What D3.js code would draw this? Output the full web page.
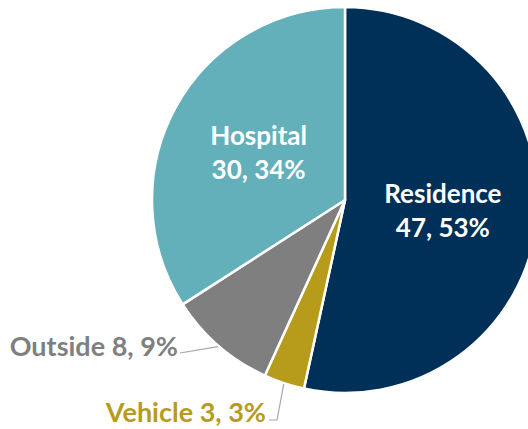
<!DOCTYPE html>
<html>
<head>
<meta charset="utf-8">
<script src="https://cdn.jsdelivr.net/npm/d3@7"></script>
<style>
  html, body { margin: 0; padding: 0; background: #fff; }
  svg { display: block; }
  text { font-family: Lato, "Open Sans", sans-serif; font-weight: 700; }
</style>
</head>
<body>
<svg id="chart" width="528" height="429"></svg>
<script>
// Place of death, counts and shares
const categories = ["Residence", "Vehicle", "Outside", "Hospital"];
const counts = [47, 3, 8, 30];
const percents = [53, 3, 9, 34];
const colors = ["#003057", "#b79c1b", "#7f7f7f", "#63b0bb"];
// labels drawn inside the slice vs. outside with a leader line
const insideLabel = [true, false, false, true];

const W = 528, H = 429;
const cx = 345, cy = 200, R = 193;

const svg = d3.select("#chart");
const g = svg.append("g").attr("transform", `translate(${cx},${cy})`);

const pie = d3.pie().sort(null).value(d => d.count);
const data = categories.map((c, i) => ({ name: c, count: counts[i], pct: percents[i], color: colors[i], inside: insideLabel[i] }));
const arcs = pie(data);

const arc = d3.arc().innerRadius(0).outerRadius(R);
const labelArc = d3.arc().innerRadius(R * 0.51).outerRadius(R * 0.51);
const edgeArc = d3.arc().innerRadius(R + 1).outerRadius(R + 1);

g.selectAll("path.slice")
  .data(arcs)
  .join("path")
  .attr("class", "slice")
  .attr("d", arc)
  .attr("fill", d => d.data.color)
  .attr("stroke", "#fff")
  .attr("stroke-width", 2.5)
  .attr("stroke-linejoin", "round");

// labels inside the big slices: name on top, "count, pct%" below
const inner = g.selectAll("g.inlabel")
  .data(arcs.filter(d => d.data.inside))
  .join("g")
  .attr("class", "inlabel")
  .attr("transform", d => { const [x, y] = labelArc.centroid(d); return `translate(${x},${y})`; });
inner.append("text")
  .attr("text-anchor", "middle")
  .attr("y", -8)
  .attr("font-size", 26)
  .attr("fill", "#fff")
  .text(d => d.data.name);
inner.append("text")
  .attr("text-anchor", "middle")
  .attr("y", 26)
  .attr("font-size", 26)
  .attr("fill", "#fff")
  .text(d => `${d.data.count}, ${d.data.pct}%`);

// labels for the small slices, outside with leader lines
const outsideLayout = {
  Outside: { lineTo: [[-165, 153]], text: [-167, 156], anchor: "end" },
  Vehicle: { lineTo: [[-68, 220], [-76, 220]], text: [-79, 222], anchor: "end" }
};

arcs.filter(d => !d.data.inside).forEach(d => {
  const L = outsideLayout[d.data.name];
  const start = edgeArc.centroid(d);
  const pts = [start, ...L.lineTo];
  g.append("path")
    .attr("d", d3.line()(pts))
    .attr("fill", "none")
    .attr("stroke", "#a6a6a6")
    .attr("stroke-width", 1.2);
  g.append("text")
    .attr("x", L.text[0])
    .attr("y", L.text[1])
    .attr("text-anchor", L.anchor)
    .attr("font-size", 27)
    .attr("fill", d.data.color)
    .text(`${d.data.name} ${d.data.count}, ${d.data.pct}%`);
});
</script>
</body>
</html>
